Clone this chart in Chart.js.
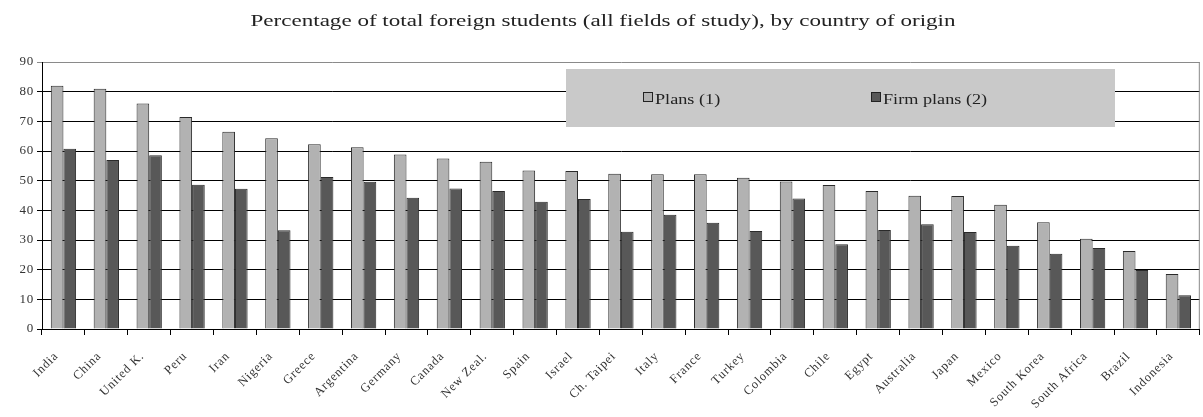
<!DOCTYPE html>
<html>
<head>
<meta charset="utf-8">
<script src="https://cdn.jsdelivr.net/npm/chart.js@4/dist/chart.umd.min.js"></script>
<style>
  html, body { margin: 0; padding: 0; background: #fff; }
  #wrap { width: 1203px; height: 417px; }
</style>
</head>
<body>
<div id="wrap"><canvas id="myChart" width="1203" height="417"></canvas></div>
<script>
const countries = ['India', 'China', 'United K.', 'Peru', 'Iran', 'Nigeria', 'Greece', 'Argentina', 'Germany',
  'Canada', 'New Zeal.', 'Spain', 'Israel', 'Ch. Taipei', 'Italy', 'France', 'Turkey', 'Colombia', 'Chile',
  'Egypt', 'Australia', 'Japan', 'Mexico', 'South Korea', 'South Africa', 'Brazil', 'Indonesia'];
const plans = [82, 81, 76, 71.5, 66.5, 64.3, 62.3, 61.3, 58.8, 57.5, 56.4, 53.4, 53.3, 52.3, 52.2, 52.2, 51,
  49.7, 48.5, 46.5, 44.9, 44.8, 41.9, 36, 30.4, 26.3, 18.5];
const firmPlans = [60.8, 57, 58.6, 48.6, 47.3, 33.3, 51.2, 49.6, 44.2, 47.4, 46.5, 42.9, 43.8, 32.8, 38.5, 35.8,
  33, 44, 28.6, 33.4, 35.3, 32.7, 28.1, 25.4, 27.3, 19.9, 11.4];
const yTicks = [0, 10, 20, 30, 40, 50, 60, 70, 80, 90];

const titleText = 'Percentage of total foreign students (all fields of study), by country of origin';
const serif = "'Liberation Serif', 'DejaVu Serif', serif";

// the source picture is stretched sideways, so its type runs wide
const spacing = {
  id: 'spacing',
  beforeUpdate(chart) { chart.ctx.letterSpacing = '0.8px'; },
  beforeDraw(chart) { chart.ctx.letterSpacing = '0.8px'; }
};

// text squeezed/stretched only in x
function wideText(c, txt, x, y, stretch) {
  c.save();
  c.translate(x, y);
  c.scale(stretch, 1);
  c.fillText(txt, 0, 0);
  c.restore();
}

// title, grey legend box and right border drawn by hand
const extras = {
  id: 'extras',
  afterDraw(chart) {
    const c = chart.ctx;
    const a = chart.chartArea;
    c.save();
    c.letterSpacing = '0px';
    c.fillStyle = '#222';
    c.font = '16px ' + serif;
    c.textAlign = 'center';
    c.textBaseline = 'middle';
    const w = c.measureText(titleText).width;
    wideText(c, titleText, 603, 22, 705 / w);

    c.strokeStyle = '#888';
    c.lineWidth = 1;
    c.beginPath();
    c.moveTo(a.right - 0.5, a.top);
    c.lineTo(a.right - 0.5, a.bottom);
    c.stroke();

    // legend
    c.fillStyle = '#c9c9c9';
    c.fillRect(566, 69, 549, 58);
    const ds = chart.data.datasets;
    const spots = [643, 871];
    c.font = '14px ' + serif;
    c.textAlign = 'left';
    ds.forEach((d, i) => {
      const x = spots[i];
      c.fillStyle = d.backgroundColor;
      c.fillRect(x, 92, 10, 10);
      c.strokeStyle = '#222';
      c.strokeRect(x + 0.5, 92.5, 9, 9);
      c.fillStyle = '#222';
      wideText(c, d.label, x + 12, 100, 1.3);
    });
    c.restore();
  }
};

const ctx = document.getElementById('myChart').getContext('2d');
const chart = new Chart(ctx, {
  type: 'bar',
  data: {
    labels: countries,
    datasets: [
      { label: 'Plans (1)', data: plans, backgroundColor: '#b2b2b2', borderColor: '#2a2a2a', borderWidth: 1 },
      { label: 'Firm plans (2)', data: firmPlans, backgroundColor: '#585858', borderColor: '#2a2a2a', borderWidth: 1 }
    ]
  },
  options: {
    responsive: false,
    animation: false,
    devicePixelRatio: 1,
    layout: { padding: { top: 62, right: 1, left: 0, bottom: 0 } },
    plugins: { legend: { display: false }, title: { display: false }, tooltip: { enabled: false } },
    datasets: { bar: { categoryPercentage: 0.59, barPercentage: 1 } },
    scales: {
      x: {
        grid: { drawOnChartArea: false, drawTicks: true, tickLength: 6, color: '#000', offset: true },
        border: { color: '#000', width: 1 },
        ticks: { minRotation: 45, maxRotation: 45, autoSkip: false, color: '#333', padding: 14, labelOffset: -7,
          font: { family: serif, size: 12.5 } },
        afterFit(s) { s.height = 88; }
      },
      y: {
        min: 0, max: 90,
        afterBuildTicks(s) { s.ticks = yTicks.map(v => ({ value: v })); },
        grid: { color: ctx => ctx.tick && ctx.tick.value === 90 ? '#8a8a8a' : '#000', tickLength: 5, lineWidth: 1 },
        border: { color: '#000', width: 1 },
        ticks: { color: '#333', padding: 3, font: { family: serif, size: 13 } },
        afterFit(s) { s.width = 42; }
      }
    }
  },
  plugins: [spacing, extras]
});
</script>
</body>
</html>
